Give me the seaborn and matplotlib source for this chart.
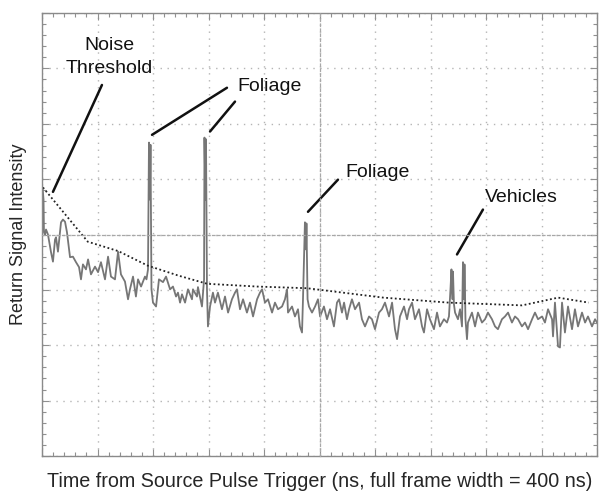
import numpy as np
import pandas as pd
import matplotlib
matplotlib.use('Agg')
import matplotlib.pyplot as plt
import seaborn as sns
from matplotlib.ticker import MultipleLocator, NullFormatter

# Return trace (time in ns, level in screen divisions)
trace_ns = [0.4, 1.1, 1.4, 2.2, 2.9, 4.3, 6.5, 7.9, 9.4, 10.1, 11.5, 13.7, 15.1, 16.6, 18.0,
            20.2, 22.3, 24.5, 26.7, 28.1, 29.5, 31.7, 33.2, 35.3, 38.2, 40.4, 42.5, 45.4, 47.6,
            49.7, 52.6, 54.8, 56.9, 59.8, 62.0, 63.4, 65.6, 67.7, 69.2, 71.4, 74.2, 75.3,
            76.4, 77.1, 77.8, 78.2, 78.9,
            80.0, 82.2, 84.3, 87.2, 89.4, 92.3, 94.4, 96.6,
            98.0, 99.5, 100.9, 103.1, 105.2, 108.1, 108.8, 111.7, 112.4, 115.3, 116.8,
            117.1, 117.8, 118.2, 118.9,
            119.6, 121.1, 123.2, 124.7, 126.8, 129.7, 131.9, 134.1, 136.9, 139.1, 140.5, 142.7,
            144.9, 147.7, 149.9, 152.1, 155.0, 157.1, 158.6, 160.7, 162.9, 165.8, 167.9, 170.1,
            173.0, 175.1, 176.6, 177.3, 180.2, 182.3, 184.5, 185.9, 187.4, 188.1,
            188.8, 189.5, 190.3, 190.6, 191.4,
            192.4, 194.6, 196.8, 198.9, 200.4, 203.2, 205.4, 207.6, 210.4, 212.6, 214.1, 216.2,
            217.7, 219.8, 221.3, 223.4, 225.6, 228.5, 230.6, 232.8, 235.7, 237.8, 240.0, 242.9,
            245.0, 247.2, 250.1, 252.3, 254.4, 255.9, 258.0, 260.9, 263.1, 264.5, 266.7, 268.8,
            271.7, 273.9, 275.3, 277.5, 279.6, 282.5, 284.7, 286.8, 289.7, 291.9, 293.3,
            294.4, 295.1, 295.9, 296.2, 296.9,
            297.7, 299.8, 301.3, 302.7,
            303.4, 304.2, 304.5, 305.2,
            306.3, 307.0, 309.9, 312.1, 314.2, 317.1, 319.3, 321.4, 324.3, 326.5, 328.6, 331.5,
            333.7, 335.9, 338.7, 340.9, 343.1, 345.9, 348.1, 350.3, 353.2, 355.3, 357.5, 360.4,
            362.5, 364.7, 367.6, 368.3, 369.7, 371.9, 373.3, 374.8, 376.9, 379.1, 382.0, 384.1,
            386.3, 389.2, 391.4, 393.5, 396.4, 398.6, 400.0]
trace_level = [4.85, 4.63, 4.04, 4.00, 4.09, 4.00, 3.68, 3.51, 3.91, 3.95, 3.69, 4.22, 4.27, 4.23, 4.04,
               3.59, 3.60, 3.50, 3.41, 3.19, 3.46, 3.37, 3.55, 3.28, 3.42, 3.32, 3.50, 3.19, 3.60,
               3.24, 3.19, 3.69, 3.28, 3.15, 2.83, 3.01, 3.24, 2.88, 3.19, 3.06, 3.24, 3.19,
               3.37, 5.66, 4.63, 5.62, 3.01,
               2.77, 2.70, 3.19, 3.14, 3.24, 3.01, 3.06, 2.88,
               2.95, 2.77, 2.92, 2.77, 3.01, 2.83, 3.01, 2.88, 3.05, 2.70, 3.19,
               5.75, 4.63, 5.72, 3.01,
               2.34, 2.70, 2.95, 2.77, 2.95, 2.65, 2.88, 2.59, 2.83, 2.95, 3.01, 2.65,
               2.83, 2.59, 2.77, 2.52, 2.83, 2.95, 3.01, 2.77, 2.83, 2.59, 2.77, 2.65,
               2.70, 2.83, 3.01, 2.59, 2.70, 2.52, 2.65, 2.34, 2.23, 2.83,
               3.55, 4.22, 3.73, 4.20, 2.83,
               2.70, 2.59, 2.70, 2.83, 2.52, 2.70, 2.47, 2.65, 2.34, 2.77, 2.83, 2.59,
               2.77, 2.47, 2.65, 2.83, 2.65, 2.77, 2.47, 2.34, 2.52, 2.47, 2.29, 2.59,
               2.65, 2.77, 2.52, 2.77, 2.29, 2.11, 2.52, 2.70, 2.47, 2.65, 2.77, 2.47,
               2.65, 2.34, 2.23, 2.65, 2.47, 2.29, 2.59, 2.34, 2.47, 2.41, 2.52,
               3.01, 3.37, 2.83, 3.33, 2.74,
               2.59, 2.47, 2.65, 2.34,
               3.50, 2.83, 3.46, 2.47,
               2.11, 2.41, 2.59, 2.34, 2.59, 2.41, 2.47, 2.59, 2.47, 2.34, 2.29, 2.47,
               2.52, 2.59, 2.41, 2.52, 2.47, 2.34, 2.41, 2.29, 2.47, 2.59, 2.47, 2.52,
               2.41, 2.65, 2.47, 2.16, 2.77, 1.98, 1.96, 2.77, 2.23, 2.70, 2.29, 2.65,
               2.34, 2.59, 2.41, 2.52, 2.34, 2.47, 2.41]

# Noise threshold curve (dotted)
thresh_ns = [0.7, 33.0, 55.0, 76.0, 98.0, 119.0, 155.0, 191.0, 246.0, 293.0, 346.0, 372.0, 394.0]
thresh_level = [4.85, 3.87, 3.70, 3.44, 3.26, 3.11, 3.06, 3.03, 2.86, 2.77, 2.72, 2.86, 2.77]

df_trace = pd.DataFrame({'t': trace_ns, 'v': trace_level})
df_thr = pd.DataFrame({'t': thresh_ns, 'v': thresh_level})

sns.set_theme(style='white')
plt.rcParams['font.family'] = ['Liberation Sans', 'DejaVu Sans']

fig = plt.figure(figsize=(5.99, 4.92), dpi=100)
pos = [42 / 599, 36 / 492, 555 / 599, 443 / 492]
ax = fig.add_axes(pos)

sns.lineplot(data=df_trace, x='t', y='v', ax=ax, color='#767676', linewidth=1.3,
             estimator=None, sort=False)
sns.lineplot(data=df_thr, x='t', y='v', ax=ax, color='#222222', linewidth=1.3,
             linestyle=(0, (1, 1.4)), estimator=None, sort=False)

ax.set_xlim(0, 400)
ax.set_ylim(0, 8)
ax.xaxis.set_major_locator(MultipleLocator(40))
ax.yaxis.set_major_locator(MultipleLocator(1))
ax.xaxis.set_minor_locator(MultipleLocator(8))
ax.yaxis.set_minor_locator(MultipleLocator(0.2))
ax.xaxis.set_major_formatter(NullFormatter())
ax.yaxis.set_major_formatter(NullFormatter())
ax.grid(True, which='major', color='#b5b5b5', linestyle=(0, (1, 4)), linewidth=1.0)
ax.tick_params(which='both', direction='in', top=True, right=True, bottom=True, left=True,
               color='#909090', width=0.8)
ax.tick_params(which='major', length=5)
ax.tick_params(which='minor', length=3)
for s in ax.spines.values():
    s.set_color('#8a8a8a')
    s.set_linewidth(1.0)

ax.set_xlabel('Time from Source Pulse Trigger (ns, full frame width = 400 ns)',
              fontsize=14.2, labelpad=8)
ax.set_ylabel('Return Signal Intensity', fontsize=13, labelpad=7)

# centre graticule with small cross ticks
cx = fig.add_axes(pos, facecolor='none')
cx.set_xlim(0, 400)
cx.set_ylim(0, 8)
cx.spines['top'].set_visible(False)
cx.spines['right'].set_visible(False)
cx.spines['left'].set_position(('data', 200))
cx.spines['bottom'].set_position(('data', 4))
for k in ('left', 'bottom'):
    cx.spines[k].set_color('#a8a8a8')
    cx.spines[k].set_linewidth(0.9)
    cx.spines[k].set_linestyle((0, (2, 2)))
cx.xaxis.set_major_locator(MultipleLocator(40))
cx.yaxis.set_major_locator(MultipleLocator(1))
cx.xaxis.set_minor_locator(MultipleLocator(8))
cx.yaxis.set_minor_locator(MultipleLocator(0.2))
cx.xaxis.set_major_formatter(NullFormatter())
cx.yaxis.set_major_formatter(NullFormatter())
cx.tick_params(which='both', direction='inout', color='#909090', width=0.8)
cx.tick_params(which='major', length=6)
cx.tick_params(which='minor', length=5)
cx.grid(False)

# annotations
lab = dict(fontsize=14, ha='center', va='center', color='#111111')
ax.text(48.3, 7.21, 'Noise\nThreshold', linespacing=1.45, **lab)
ax.text(164.3, 6.67, 'Foliage', **lab)
ax.text(242.2, 5.12, 'Foliage', **lab)
ax.text(345.2, 4.67, 'Vehicles', **lab)

arrow = dict(arrowstyle='-', color='#111111', lw=1.8, shrinkA=0, shrinkB=0)
for start, end in [((43.2, 6.70), (7.9, 4.77)),
                   ((133.3, 6.65), (79.3, 5.80)),
                   ((139.1, 6.40), (121.1, 5.86)),
                   ((213.3, 4.99), (191.7, 4.41)),
                   ((317.8, 4.45), (299.1, 3.64))]:
    ax.annotate('', xy=end, xytext=start, arrowprops=arrow)

fig.savefig('out.png', dpi=100)
